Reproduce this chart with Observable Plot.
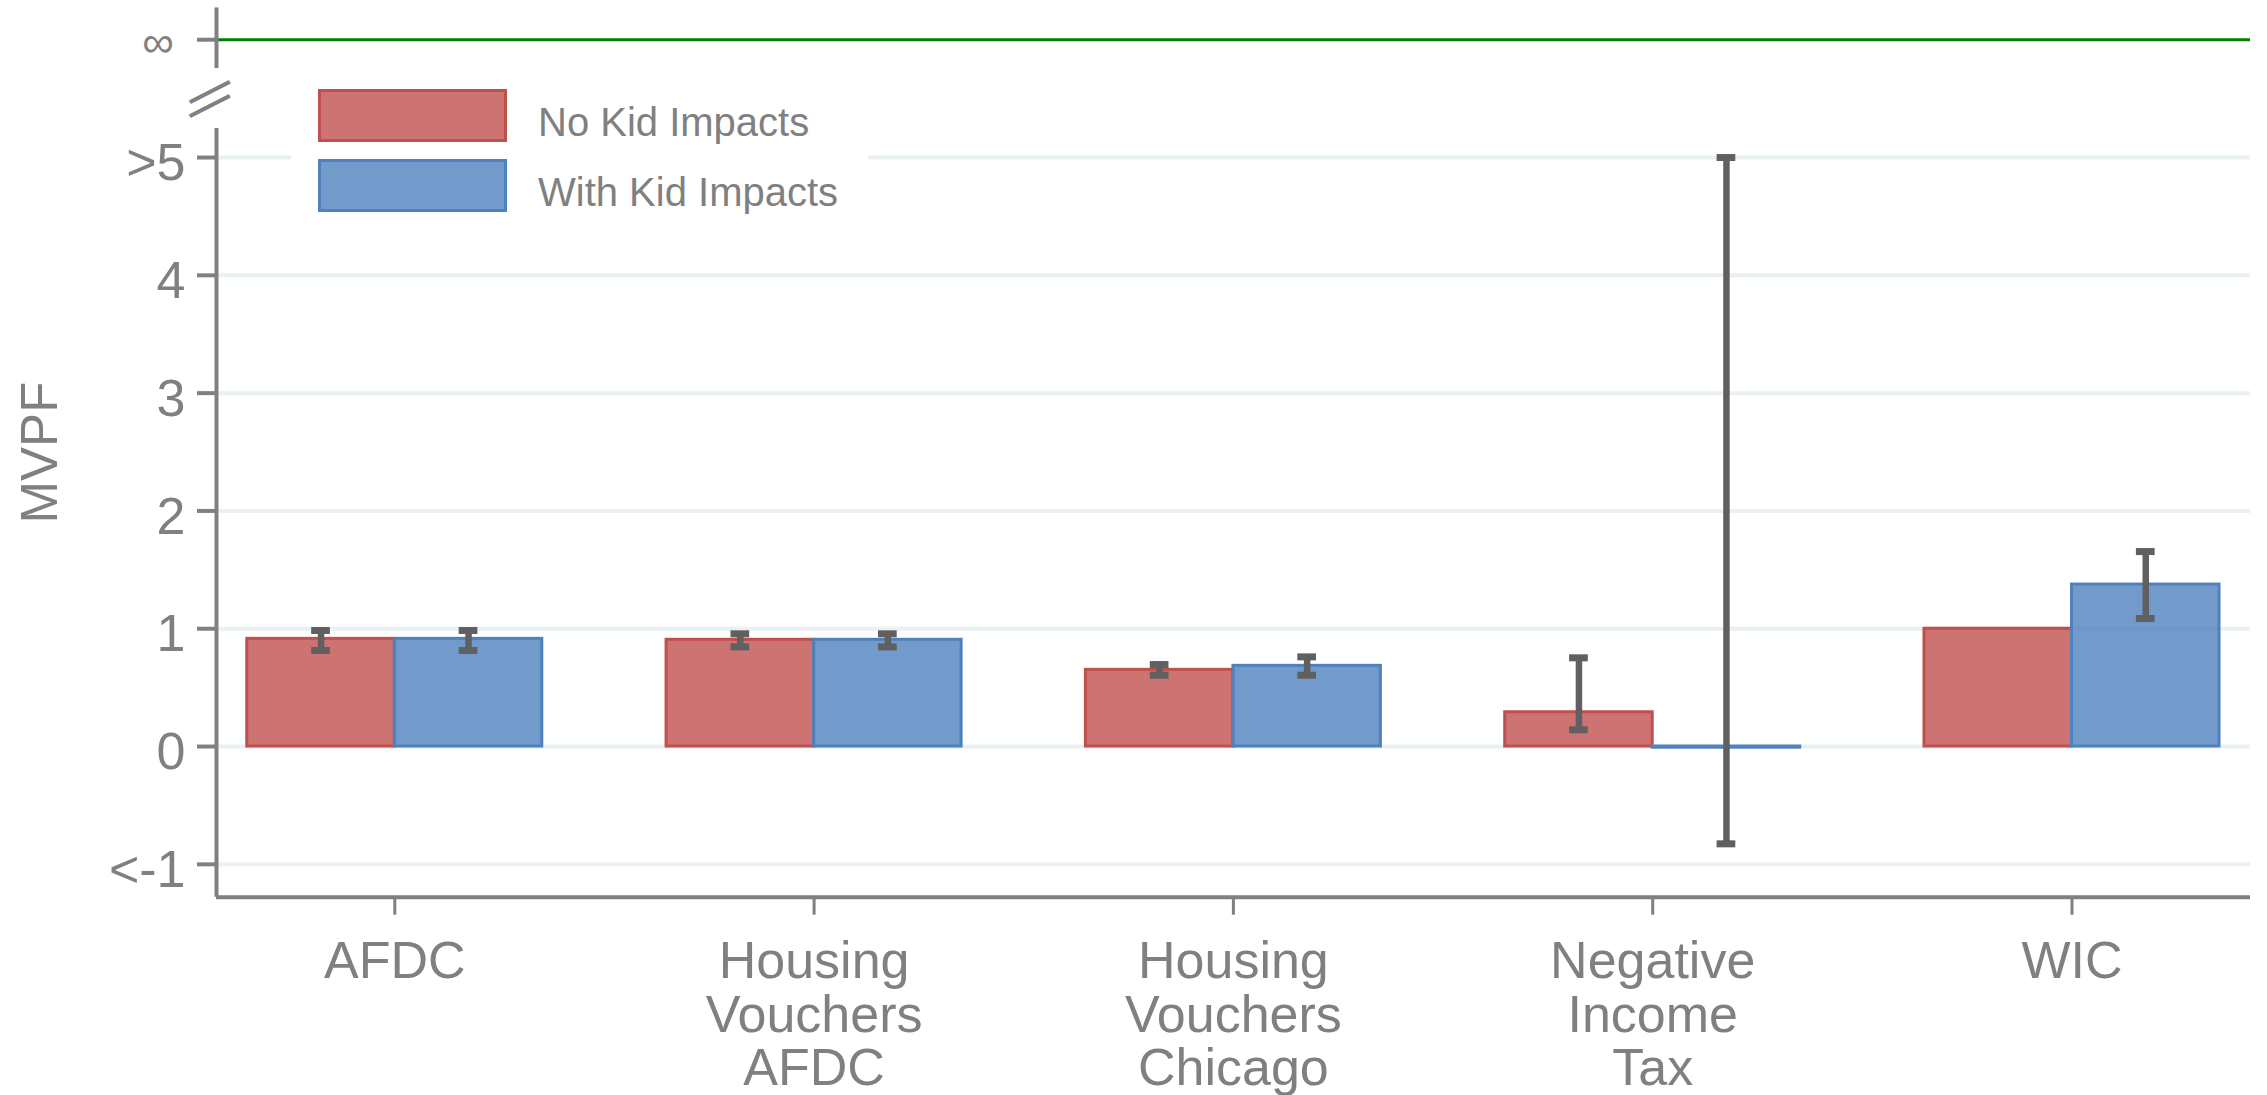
<!DOCTYPE html>
<html>
<head>
<meta charset="utf-8">
<script src="https://cdn.jsdelivr.net/npm/d3@7"></script>
<script src="https://cdn.jsdelivr.net/npm/@observablehq/plot@0.6"></script>
<style>
  html, body { margin: 0; padding: 0; background: #fff; }
  #wrap { position: relative; width: 2267px; height: 1095px; font-family: "Liberation Sans", Arial, sans-serif; }
  #wrap svg { display: block; }
  #legend { position: absolute; left: 291px; top: 76px; width: 577px; height: 150px; background: #fff; }
  .sw { position: absolute; left: 27px; width: 189px; height: 53px; box-sizing: border-box; border: 3px solid; }
  .lt { position: absolute; left: 247px; font-size: 40px; line-height: 1; color: #808080; white-space: nowrap; }
</style>
</head>
<body>
<div id="wrap"></div>
<script>
// ---- data ----
const categories = ["AFDC", "Housing Vouchers AFDC", "Housing Vouchers Chicago", "Negative Income Tax", "WIC"];
const categoryLabels = ["AFDC", "Housing\nVouchers\nAFDC", "Housing\nVouchers\nChicago", "Negative\nIncome\nTax", "WIC"];
const series = ["No Kid Impacts", "With Kid Impacts"];
const noKidValue = [0.914, 0.906, 0.651, 0.291, 1.0];
const noKidLow   = [0.815, 0.846, 0.605, 0.142, null];
const noKidHigh  = [0.985, 0.957, 0.696, 0.753, null];
const withKidValue = [0.914, 0.906, 0.685, -0.01, 1.375];
const withKidLow   = [0.815, 0.846, 0.605, -0.826, 1.087];
const withKidHigh  = [0.985, 0.957, 0.761, 5, 1.655];
const yTicks = [-1, 0, 1, 2, 3, 4, 5];
const yTickLabels = ["<-1", "0", "1", "2", "3", "4", ">5"];
const infValue = 6;
const infLabel = "\u221E";
const yLabel = "MVPF";

// ---- layout / style ----
const W = 2267, H = 1095;
const xDomain = [-0.4252, 4.4257];
const yDomain = [-1.279, 6.333];
const lowerAxisTop = 5.246, upperAxisBottom = 5.755, upperAxisTop = 6.27, breakAt = 5.518;
const barW = 0.3518, capHalf = 0.0223;
const gray = "#808080";
const colors = ["#c0504d", "#4f81bd"];

const rows = [];
categories.forEach((c, i) => {
  rows.push({cat: c, i, series: series[0], value: noKidValue[i], lo: noKidLow[i], hi: noKidHigh[i], x1: i - barW, x2: i, xc: i - barW / 2});
  rows.push({cat: c, i, series: series[1], value: withKidValue[i], lo: withKidLow[i], hi: withKidHigh[i], x1: i, x2: i + barW, xc: i + barW / 2});
});
const errRows = rows.filter(d => d.lo != null && d.hi != null);

const chart = Plot.plot({
  width: W,
  height: H,
  marginLeft: 216,
  marginRight: 17,
  marginTop: 0,
  marginBottom: 198.3,
  style: {fontFamily: "'Liberation Sans', Arial, sans-serif", background: "white", overflow: "visible"},
  x: {type: "linear", domain: xDomain},
  y: {type: "linear", domain: yDomain},
  color: {domain: series, range: colors},
  marks: [
    Plot.ruleY(yTicks, {stroke: "#e9f1f2", strokeWidth: 4}),
    Plot.ruleY([infValue], {stroke: "#008000", strokeWidth: 3}),
    Plot.rect(rows, {x1: "x1", x2: "x2", y1: () => 0, y2: "value", fill: "series", fillOpacity: 0.8, stroke: "series", strokeWidth: 3}),
    Plot.ruleX(errRows, {x: "xc", y1: "lo", y2: "hi", stroke: "#606060", strokeWidth: 6.5}),
    Plot.ruleY(errRows, {y: "lo", x1: d => d.xc - capHalf, x2: d => d.xc + capHalf, stroke: "#606060", strokeWidth: 7}),
    Plot.ruleY(errRows, {y: "hi", x1: d => d.xc - capHalf, x2: d => d.xc + capHalf, stroke: "#606060", strokeWidth: 7}),
    // axis lines (broken y axis)
    Plot.ruleX([xDomain[0]], {y1: yDomain[0], y2: lowerAxisTop, stroke: gray, strokeWidth: 4}),
    Plot.ruleX([xDomain[0]], {y1: upperAxisBottom, y2: upperAxisTop, stroke: gray, strokeWidth: 4}),
    Plot.ruleY([yDomain[0]], {stroke: gray, strokeWidth: 4}),
    // axis break marks
    Plot.text(["\u2014"], {x: xDomain[0], y: breakAt, dx: -8, dy: -7, rotate: -27, fontSize: 44, fill: gray, stroke: gray, strokeWidth: 0.9}),
    Plot.text(["\u2014"], {x: xDomain[0], y: breakAt, dx: -8, dy: 7, rotate: -27, fontSize: 44, fill: gray, stroke: gray, strokeWidth: 0.9}),
    // y axis: tick marks
    Plot.axisY(yTicks.concat([infValue]), {anchor: "left", tickSize: 19, tickFormat: () => "", stroke: gray, fill: "none", strokeWidth: 4, label: null}),
    // y axis: tick labels
    Plot.axisY(yTicks, {anchor: "left", tickSize: 0, tickPadding: 31, dy: 6, fontSize: 52, stroke: "none", fill: gray,
      tickFormat: d => yTickLabels[yTicks.indexOf(d)], label: null}),
    Plot.axisY([infValue], {anchor: "left", tickSize: 0, tickPadding: 43, dy: 3.5, fontSize: 44, stroke: "none", fill: gray,
      tickFormat: () => infLabel, label: null}),
    // x axis
    Plot.axisX(d3.range(categories.length), {anchor: "bottom", tickSize: 18, tickPadding: 25, fontSize: 52, lineHeight: 1.03,
      color: gray, strokeWidth: 3, tickFormat: i => categoryLabels[i], label: null}),
    Plot.text([yLabel], {frameAnchor: "left", y: (yDomain[0] + upperAxisTop) / 2, dx: -176, rotate: -90, textAnchor: "middle", fontSize: 51, fill: gray})
  ]
});

const wrap = document.getElementById("wrap");
wrap.append(chart);

// legend
const legend = document.createElement("div");
legend.id = "legend";
series.forEach((s, k) => {
  const sw = document.createElement("div");
  sw.className = "sw";
  sw.style.top = (13 + k * 70) + "px";
  sw.style.borderColor = colors[k];
  const c = d3.color(colors[k]); c.opacity = 0.8;
  sw.style.background = c.formatRgb();
  legend.append(sw);
  const t = document.createElement("div");
  t.className = "lt";
  t.style.top = (25.5 + k * 70) + "px";
  t.textContent = s;
  legend.append(t);
});
wrap.append(legend);
</script>
</body>
</html>
